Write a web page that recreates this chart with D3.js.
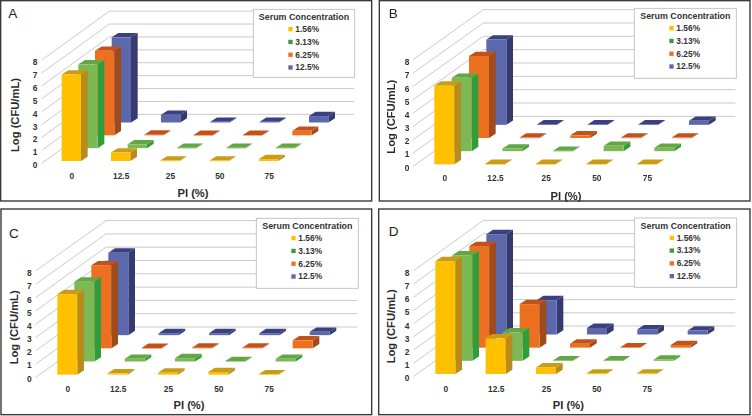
<!DOCTYPE html>
<html><head><meta charset="utf-8">
<script src="https://cdnjs.cloudflare.com/ajax/libs/d3/7.8.5/d3.min.js"></script>
<style>html,body{margin:0;padding:0;background:#fff}svg{display:block;filter:blur(0.3px)}text{font-family:"Liberation Sans",Arial,sans-serif}</style>
</head><body><svg id="c" width="752" height="416"></svg>
<script>
const categories = ["0","12.5","25","50","75"];
const seriesNames = ["1.56%","3.13%","6.25%","12.5%"];
const yTicks = [0,1,2,3,4,5,6,7,8];
const legendTitle = "Serum Concentration";
const xTitle = "PI (%)";
const yTitle = "Log (CFU/mL)";

const a156 = [6.7,0.65,0.03,0.03,0.15];
const a313 = [6.5,0.3,0.03,0.03,0.03];
const a625 = [6.55,0.05,0.03,0.03,0.35];
const a125 = [6.6,0.6,0.05,0.05,0.5];

const b156 = [5.9,0.03,0.03,0.03,0.03];
const b313 = [5.5,0.2,0.03,0.4,0.25];
const b625 = [6.15,0.03,0.2,0.03,0.03];
const b125 = [6.4,0.03,0.03,0.03,0.3];

const c156 = [6.05,0.1,0.15,0.2,0.03];
const c313 = [6.0,0.2,0.25,0.03,0.2];
const c625 = [6.25,0.03,0.05,0.05,0.6];
const c125 = [6.2,0.15,0.15,0.15,0.25];

const d156 = [8.55,2.7,0.5,0.03,0.03];
const d313 = [8.0,2.15,0.03,0.03,0.1];
const d625 = [7.7,3.3,0.3,0.03,0.2];
const d125 = [7.6,2.6,0.5,0.4,0.3];

const palette = [
  {front:"#FFC000",top:"#C99C18",side:"#B98A1C"},
  {front:"#7CB955",top:"#62A744",side:"#2F9E3A"},
  {front:"#ED7020",top:"#C2521C",side:"#A04B1C"},
  {front:"#5B69AC",top:"#3A4080",side:"#363A6E"}
];

// layouts are in 3x zoom units, converted by z()
const z = v => v/3;
const panels = [
 {name:"A",ox:0,oy:0,vals:[a156,a313,a625,a125],bar:185,sp:148,base:483,unit:38.7,dx:50,dy:38.5,bw:58,
  fl:[125,490],bk:[328,343],right:1062,leg:[760,28,304,204],let:[25,55],tx:112,t0:495,t8:186,cy:527,yt:[45,345],xt:[579,580],box:[2,2,1115,603]},
 {name:"B",ox:376,oy:0,vals:[b156,b313,b625,b125],bar:175,sp:152,base:493,unit:40,dx:52,dy:39.5,bw:60,
  fl:[110,500],bk:[322,349],right:1078,leg:[775,25,306,210],let:[38,55],tx:100,t0:502,t8:186,cy:535,yt:[45,350],xt:[570,588],box:[10,2,1122,603]},
 {name:"C",ox:0,oy:208,vals:[c156,c313,c625,c125],bar:172,sp:151,base:500,unit:39.9,dx:51,dy:39.5,bw:60,
  fl:[107,508],bk:[318,357],right:1072,leg:[769,31,306,210],let:[27,90],tx:95,t0:511,t8:195,cy:544,yt:[42,358],xt:[567,592],box:[3,3,1115,620]},
 {name:"D",ox:376,oy:208,vals:[d156,d313,d625,d125],bar:178,sp:151,base:498,unit:39.6,dx:51,dy:39.5,bw:60,
  fl:[113,505],bk:[322,354],right:1078,leg:[776,30,306,208],let:[38,83],tx:100,t0:510,t8:194,cy:543,yt:[45,355],xt:[577,592],box:[8,3,1122,620]}
];
const sideX = 20, sideY = 13;
const svg = d3.select("#c");

panels.forEach(p => {
  const g = svg.append("g").attr("transform",`translate(${p.ox},${p.oy})`);
  g.append("rect").attr("x",z(p.box[0])).attr("y",z(p.box[1]))
    .attr("width",z(p.box[2]-p.box[0])).attr("height",z(p.box[3]-p.box[1]))
    .attr("fill","#fff").attr("stroke","#3a3a3a").attr("stroke-width",1.4);

  const x = d3.scalePoint().domain(categories).range([z(p.bar),z(p.bar+4*p.sp)]);
  const y = d3.scaleLinear().domain([0,8]).range([0,z(p.unit*8)]);
  const wallY = d3.scaleLinear().domain([0,8]).range([z(p.bk[1]),z(p.bk[1]-p.unit*8)]);
  const leftY = d3.scaleLinear().domain([0,8]).range([z(p.fl[1]),z(p.fl[1]-p.unit*8)]);
  const labelY = d3.scaleLinear().domain([0,8]).range([z(p.t0),z(p.t8)]);

  // grid
  const grid = g.append("g").attr("stroke","#BDBDBD").attr("stroke-width",0.8).attr("fill","none");
  grid.selectAll("path").data(yTicks).join("path")
    .attr("d",t=>d3.line()([[z(p.fl[0]),leftY(t)],[z(p.bk[0]),wallY(t)],[z(p.right),wallY(t)]]));

  // bars, back series first
  const bars = [];
  d3.range(3,-1,-1).forEach(si => categories.forEach((c,ci)=>bars.push({si,c,v:p.vals[si][ci]})));
  const bg = g.selectAll("g.bar").data(bars).join("g").attr("class","bar");
  const geo = d => {
    const x0 = x(d.c)+z(p.dx)*d.si, x1 = x0+z(p.bw);
    const yb = z(p.base)-z(p.dy)*d.si, yt = yb-y(d.v);
    return {x0,x1,yb,yt,sx:z(sideX),sy:z(sideY)};
  };
  bg.append("path").attr("fill",d=>palette[d.si].side).attr("d",d=>{const o=geo(d);
    return d3.line()([[o.x1,o.yb],[o.x1+o.sx,o.yb-o.sy],[o.x1+o.sx,o.yt-o.sy],[o.x1,o.yt]])+"Z";});
  bg.append("path").attr("fill",d=>palette[d.si].top).attr("d",d=>{const o=geo(d);
    return d3.line()([[o.x0,o.yt],[o.x1,o.yt],[o.x1+o.sx,o.yt-o.sy],[o.x0+o.sx,o.yt-o.sy]])+"Z";});
  bg.append("rect").attr("fill",d=>palette[d.si].front)
    .attr("x",d=>geo(d).x0).attr("y",d=>geo(d).yt)
    .attr("width",z(p.bw)).attr("height",d=>Math.max(geo(d).yb-geo(d).yt,0.6));

  // axes
  const yAxis = g.append("g").attr("transform",`translate(${z(p.tx)},0)`)
    .call(d3.axisLeft(labelY).tickValues(yTicks).tickSize(0).tickPadding(0));
  const xAxis = g.append("g").attr("transform",`translate(${z(p.bw/2)},${z(p.cy)-3})`)
    .call(d3.axisBottom(x).tickSize(0).tickPadding(0));
  [yAxis,xAxis].forEach(a=>{a.select(".domain").remove();
    a.selectAll("text").attr("fill","#333").attr("font-size",8.4).attr("font-weight","bold")
      .attr("font-family",'"Liberation Sans",Arial,sans-serif');});

  g.append("text").attr("transform",`translate(${z(p.yt[0])},${z(p.yt[1])}) rotate(-90)`)
    .attr("text-anchor","middle").attr("dy","0.35em").attr("font-size",11.2).attr("font-weight","bold")
    .attr("fill","#2b2b2b").text(yTitle);
  g.append("text").attr("x",z(p.xt[0])).attr("y",z(p.xt[1])).attr("text-anchor","middle").attr("dy","0.35em")
    .attr("font-size",11.2).attr("font-weight","bold").attr("fill","#2b2b2b").text(xTitle);
  g.append("text").attr("x",z(p.let[0])).attr("y",z(p.let[1])).attr("font-size",13.5).attr("fill","#222").text(p.name);

  // legend
  const [lx,ly,lw,lh] = p.leg;
  const L = g.append("g").attr("transform",`translate(${z(lx)},${z(ly)})`);
  L.append("rect").attr("width",z(lw)).attr("height",z(lh)).attr("fill","#fff").attr("stroke","#BFBFBF").attr("stroke-width",0.9);
  L.append("text").attr("x",z(lw/2)).attr("y",z(24)).attr("dy","0.35em").attr("text-anchor","middle")
    .attr("font-size",8.9).attr("font-weight","bold").attr("fill","#333").text(legendTitle);
  const itemY = d3.scalePoint().domain(seriesNames).range([z(59),z(174)]);
  const it = L.selectAll("g.it").data(seriesNames).join("g").attr("class","it")
    .attr("transform",d=>`translate(0,${itemY(d)})`);
  it.append("rect").attr("x",z(105)).attr("y",z(-6)).attr("width",z(13)).attr("height",z(13))
    .attr("fill",(d,i)=>i==1?"#3C9A3E":palette[i].front);
  it.append("text").attr("x",z(126)).attr("dy","0.35em").attr("font-size",8.4).attr("font-weight","bold")
    .attr("fill","#333").text(d=>d);
});
</script></body></html>
